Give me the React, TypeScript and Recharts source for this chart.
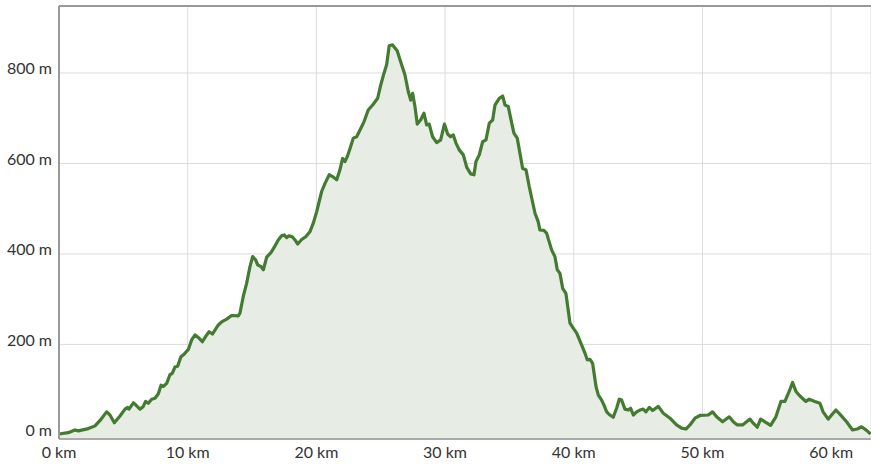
import { AreaChart, Area, XAxis, YAxis, CartesianGrid, ReferenceLine } from "recharts";

// distance along the route (km) and elevation (m)
const distanceKm = [
  0, 0.72, 1.24, 1.5, 2.28, 2.8, 3.19, 3.7, 3.96, 4.3, 4.74, 5.13, 5.34, 5.44, 5.78, 5.9,
  6.29, 6.55, 6.73, 6.94, 7.2, 7.46, 7.72, 7.93, 8.1, 8.37, 8.62, 8.8, 9.01, 9.22, 9.48, 9.74,
  10.05, 10.31, 10.57, 10.88, 11.14, 11.48, 11.66, 11.92, 12.38, 12.64, 13.03, 13.42, 13.93, 14.06,
  14.32, 14.58, 14.84, 15.05, 15.28, 15.44, 15.7, 15.88, 16.14, 16.47, 16.73, 17.04, 17.3, 17.5,
  17.69, 17.87, 18.13, 18.34, 18.55, 18.86, 19.17, 19.5, 19.76, 20.02, 20.41, 20.67, 21.0, 21.26,
  21.58, 21.83, 22.04, 22.22, 22.4, 22.66, 22.87, 23.13, 23.39, 23.7, 24.03, 24.42, 24.76, 25.0,
  25.25, 25.46, 25.66, 25.92, 26.28, 26.55, 26.88, 27.14, 27.33, 27.48, 27.66, 27.84, 28.1, 28.36,
  28.57, 28.77, 29.03, 29.35, 29.66, 29.95, 30.2, 30.43, 30.64, 30.85, 31.1, 31.42, 31.68, 31.99,
  32.25, 32.4, 32.66, 32.92, 33.18, 33.44, 33.7, 33.88, 34.21, 34.48, 34.66, 34.91, 35.18, 35.35,
  35.61, 36.03, 36.29, 36.54, 36.99, 37.24, 37.37, 37.68, 37.89, 38.28, 38.54, 38.72, 38.93, 39.14,
  39.39, 39.71, 39.96, 40.23, 40.61, 40.87, 41.05, 41.26, 41.47, 41.73, 41.91, 42.17, 42.35, 42.56,
  42.81, 43.07, 43.33, 43.54, 43.72, 43.98, 44.24, 44.42, 44.63, 44.89, 45.14, 45.4, 45.61, 45.87,
  46.13, 46.57, 46.96, 47.48, 47.99, 48.38, 48.72, 49.03, 49.42, 49.81, 50.45, 50.79, 51.1, 51.57,
  52.08, 52.4, 52.71, 53.12, 53.69, 53.95, 54.26, 54.52, 54.86, 55.3, 55.71, 56.1, 56.41, 56.74,
  57.01, 57.27, 57.58, 58.04, 58.3, 58.74, 59.13, 59.38, 59.77, 60.04, 60.37, 60.68, 61.2, 61.67,
  62.03, 62.37, 62.76, 63.07,
];

const elevationM = [
  2, 5, 11, 9, 14, 20, 32, 51, 44, 27, 42, 57, 61, 57, 71, 68,
  57, 63, 74, 70, 79, 81, 91, 110, 107, 114, 133, 136, 150, 152, 173, 179,
  189, 210, 221, 214, 206, 221, 228, 223, 243, 250, 256, 264, 263, 269,
  306, 335, 372, 394, 387, 376, 372, 365, 393, 403, 415, 431, 440, 442,
  436, 440, 438, 431, 422, 432, 438, 449, 468, 493, 538, 556, 575, 571,
  564, 586, 611, 604, 615, 637, 656, 659, 674, 692, 718, 731, 744, 773,
  799, 818, 860, 862, 849, 825, 796, 759, 740, 755, 726, 687, 696, 711,
  685, 687, 659, 646, 652, 687, 665, 659, 663, 645, 630, 619, 592, 577,
  575, 604, 619, 648, 652, 689, 696, 729, 744, 749, 729, 726, 689, 667,
  656, 589, 586, 549, 490, 471, 453, 452, 446, 409, 394, 365, 357, 324,
  313, 247, 236, 225, 199, 181, 166, 167, 158, 107, 88, 77, 66, 51,
  44, 39, 59, 79, 77, 57, 55, 59, 44, 51, 55, 57, 51, 61,
  54, 63, 48, 37, 22, 15, 13, 22, 37, 43, 44, 51, 40, 29,
  40, 29, 22, 22, 35, 26, 17, 35, 29, 21, 40, 74, 74, 96,
  116, 96, 86, 74, 79, 74, 70, 51, 35, 44, 55, 46, 29, 11,
  13, 18, 10, 2,
];

const xTicks = [0, 10, 20, 30, 40, 50, 60];
const yTicks = [0, 200, 400, 600, 800];

const data = distanceKm.map((km, i) => ({ km, ele: elevationM[i] }));

const FONT = "Lato, 'Open Sans', sans-serif";

function YTick({ y, payload }: any) {
  return (
    <text x={52} y={y - 4.5} dy="0.355em" textAnchor="end" fill="#333" fontSize={16} fontFamily={FONT}>
      {`${payload.value} m`}
    </text>
  );
}

function XTick({ x, payload }: any) {
  return (
    <text x={x} y={452} dy="0.355em" textAnchor="middle" fill="#333" fontSize={16} fontFamily={FONT}>
      {`${payload.value} km`}
    </text>
  );
}

export default function App() {
  return (
    <div style={{ width: 871, height: 464, background: "#fff" }}>
      <style>{`body{margin:0}`}</style>
      <AreaChart width={871} height={464} data={data} margin={{ top: 6, right: 0, left: 0, bottom: 0 }}>
        <CartesianGrid stroke="#dcdcdc" strokeWidth={1} />
        <XAxis
          dataKey="km"
          type="number"
          domain={[0, 63.1]}
          ticks={xTicks}
          height={25}
          axisLine={{ stroke: "#aaa", strokeWidth: 2 }}
          tickLine={false}
          tick={<XTick />}
          interval={0}
        />
        <YAxis
          type="number"
          domain={[-9, 948]}
          ticks={yTicks}
          width={59}
          axisLine={{ stroke: "#999", strokeWidth: 2 }}
          tickLine={false}
          tick={<YTick />}
          interval={0}
          allowDataOverflow
        />
        <ReferenceLine y={948} stroke="#999" strokeWidth={2} />
        <Area
          type="linear"
          dataKey="ele"
          stroke="#437b31"
          strokeWidth={3.2}
          strokeLinejoin="round"
          fill="#e7ece4"
          fillOpacity={1}
          baseValue={-9}
          dot={false}
          activeDot={false}
          isAnimationActive={false}
        />
      </AreaChart>
    </div>
  );
}
